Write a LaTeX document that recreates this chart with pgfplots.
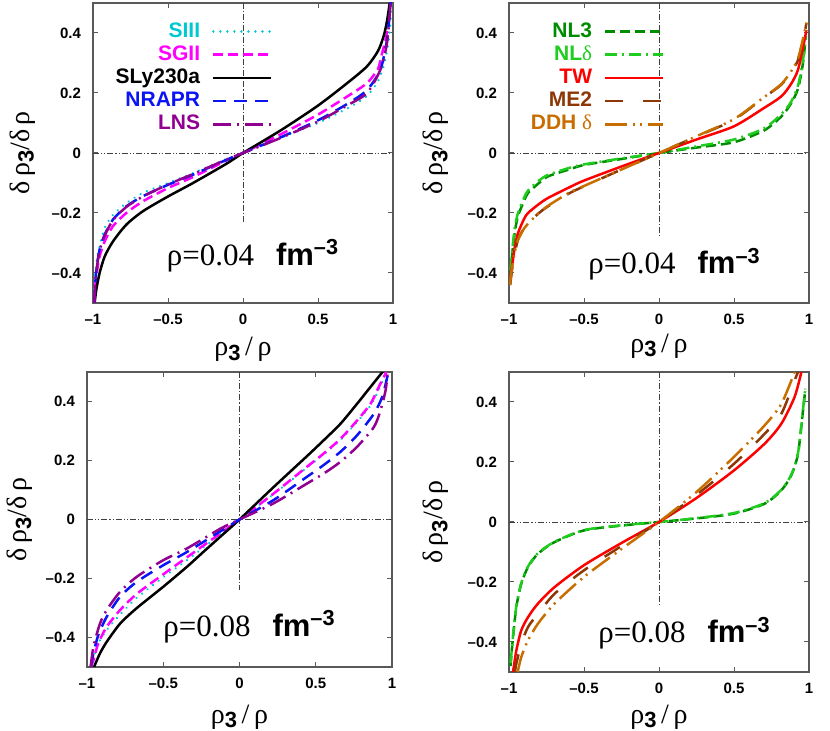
\documentclass[border=0pt]{standalone}
\usepackage{pgfplots}
\pgfplotsset{compat=1.18}
\usepackage{fontspec}
\setmainfont{Liberation Sans}
\newfontfamily\grk{Liberation Serif}

\definecolor{cSIII}{RGB}{0,200,210}
\definecolor{cSGII}{RGB}{255,0,255}
\definecolor{cNRAPR}{RGB}{10,20,245}
\definecolor{cLNS}{RGB}{145,0,145}
\definecolor{cNLiii}{RGB}{0,140,0}
\definecolor{cNLd}{RGB}{30,205,30}
\definecolor{cTW}{RGB}{255,0,0}
\definecolor{cMEii}{RGB}{140,55,5}
\definecolor{cDDH}{RGB}{200,110,0}

\newcommand{\sub}{\raisebox{-0.3ex}{\fontsize{11}{11}\selectfont\bfseries 3}}

\pgfplotsset{
  panel/.style={
    scale only axis, width=150pt, height=150pt,
    xmin=-1, xmax=1, ymin=-0.5, ymax=0.5,
    xtick={-1,-0.5,0,0.5,1}, xticklabels={–1,–0.5,0,0.5,1},
    ytick={-0.4,-0.2,0,0.2,0.4}, yticklabels={–0.4,–0.2,0,0.2,0.4},
    tick align=inside, major tick length=2.5pt,
    axis line style={black!65, line width=0.6pt},
    tick style={black!65, line width=0.5pt},
    ticklabel style={font=\bfseries\fontsize{7.5}{9}\selectfont},
    xticklabel style={yshift=-2pt},
    yticklabel style={xshift=-2.5pt},
    xlabel={{\grk ρ}\sub{\grk\,/\,ρ}},
    ylabel={{\grk δ\,ρ}\sub{\grk /δ\,ρ}},
    xlabel style={font=\fontsize{14}{14}\selectfont, anchor=center},
    ylabel style={font=\fontsize{14}{14}\selectfont, anchor=center},
    legend cell align=right, legend plot pos=right,
    legend image code/.code={\draw[##1] (0pt,0pt) -- (29pt,0pt);},
  },
  zh/.style={black!75, line width=0.4pt, dash pattern=on 3pt off 1pt on 0.6pt off 1pt on 0.6pt off 1pt, forget plot},
  zv/.style={black!75, line width=0.4pt, dash pattern=on 3pt off 1pt on 0.6pt off 1pt, forget plot},
  lw/.style={line width=1.25pt, smooth, tension=0.45},
  sIII/.style={lw, cSIII, line cap=round, dash pattern=on 0.01pt off 3.5pt},
  sSGII/.style={lw, cSGII, dash pattern=on 5pt off 2.5pt},
  sSLy/.style={lw, black},
  sNRAPR/.style={lw, cNRAPR, dash pattern=on 6.5pt off 4pt},
  sLNS/.style={lw, cLNS, dash pattern=on 9pt off 3pt on 1pt off 3pt},
  sNLiii/.style={lw, cNLiii, dash pattern=on 5pt off 2.5pt},
  sNLd/.style={lw, cNLd, dash pattern=on 6pt off 2.5pt on 1pt off 2.5pt},
  sTW/.style={lw, cTW},
  sMEii/.style={lw, cMEii, dash pattern=on 9pt off 10pt},
  sDDH/.style={lw, cDDH, dash pattern=on 11pt off 3pt on 1pt off 2.5pt on 1pt off 3pt},
  lgd/.style={legend style={draw=none, fill=none, inner sep=0pt, anchor=north east,
    font=\bfseries\fontsize{10.5}{12}\selectfont,
    nodes={inner sep=1pt, text height=7.6pt, text depth=2pt},
    /tikz/every odd column/.append style={column sep=5pt}}},
}

\begin{document}
\begin{tikzpicture}
\useasboundingbox (0,0) rectangle (415pt,365.5pt);

% top left
\begin{axis}[panel, at={(46.5pt,214pt)}, anchor=south west,
  xlabel style={at={(rel axis cs:0.5,-0.155)}}, ylabel style={at={(rel axis cs:-0.235,0.5)}},
  lgd, legend style={at={(axis cs:0.2,0.445)}}]
\addplot[zh] coordinates {(-1,0) (1,0)};
\addplot[zv] coordinates {(0,0.5) (0,-0.23)};
\addplot[sIII] coordinates {(-0.993,-0.5) (-0.989,-0.433) (-0.978,-0.367) (-0.956,-0.311) (-0.922,-0.25) (-0.867,-0.206) (-0.778,-0.167) (-0.667,-0.133) (-0.5,-0.1) (-0.333,-0.067) (-0.111,-0.02) (0,0) (0.25,0.05) (0.5,0.1) (0.7,0.15) (0.827,0.19) (0.9,0.24) (0.938,0.29) (0.96,0.34) (0.978,0.4) (0.99,0.5)};
\addlegendentry{\textcolor{cSIII}{SIII}}
\addplot[sSGII] coordinates {(-0.992,-0.5) (-0.989,-0.467) (-0.978,-0.411) (-0.956,-0.345) (-0.922,-0.295) (-0.867,-0.244) (-0.778,-0.2) (-0.667,-0.161) (-0.5,-0.117) (-0.333,-0.08) (-0.111,-0.025) (0,0) (0.25,0.062) (0.5,0.128) (0.7,0.19) (0.827,0.233) (0.9,0.28) (0.916,0.31) (0.96,0.4) (0.982,0.49) (0.985,0.5)};
\addlegendentry{\textcolor{cSGII}{SGII}}
\addplot[sSLy] coordinates {(-0.989,-0.5) (-0.978,-0.456) (-0.956,-0.4) (-0.922,-0.345) (-0.867,-0.295) (-0.778,-0.239) (-0.667,-0.194) (-0.5,-0.145) (-0.333,-0.1) (-0.111,-0.036) (0,0) (0.25,0.075) (0.5,0.158) (0.7,0.235) (0.827,0.289) (0.9,0.34) (0.938,0.39) (0.96,0.44) (0.978,0.5)};
\addlegendentry{SLy230a}
\addplot[sNRAPR] coordinates {(-0.99,-0.5) (-0.985,-0.44) (-0.978,-0.389) (-0.956,-0.322) (-0.922,-0.272) (-0.867,-0.222) (-0.778,-0.178) (-0.667,-0.144) (-0.5,-0.106) (-0.333,-0.072) (-0.111,-0.023) (0,0) (0.25,0.052) (0.5,0.109) (0.7,0.165) (0.827,0.21) (0.916,0.278) (0.96,0.378) (0.982,0.49) (0.985,0.5)};
\addlegendentry{\textcolor{cNRAPR}{NRAPR}}
\addplot[sLNS] coordinates {(-0.991,-0.5) (-0.986,-0.45) (-0.978,-0.395) (-0.956,-0.326) (-0.922,-0.276) (-0.867,-0.224) (-0.778,-0.18) (-0.667,-0.145) (-0.5,-0.105) (-0.333,-0.07) (-0.111,-0.022) (0,0) (0.25,0.05) (0.5,0.105) (0.7,0.16) (0.827,0.2) (0.916,0.278) (0.96,0.367) (0.982,0.49) (0.985,0.5)};
\addlegendentry{\textcolor{cLNS}{LNS}}
\node[anchor=west, inner sep=0pt] at (axis cs:-0.51,-0.343) {\fontsize{15.5}{15.5}\selectfont{\grk ρ=0.04}\hspace{11pt}\textbf{fm}\textsuperscript{\textbf{–3}}};
\end{axis}

% top right
\begin{axis}[panel, at={(254.5pt,214pt)}, anchor=south west,
  xlabel style={at={(rel axis cs:0.5,-0.143)}}, ylabel style={at={(rel axis cs:-0.243,0.5)}},
  lgd, legend style={at={(axis cs:0.04,0.445)}}]
\addplot[zh] coordinates {(-1,0) (1,0)};
\addplot[zv] coordinates {(0,0.5) (0,-0.28)};
\addplot[sNLiii] coordinates {(-0.988,-0.4) (-0.978,-0.333) (-0.96,-0.26) (-0.94,-0.21) (-0.9,-0.16) (-0.873,-0.133) (-0.8,-0.1) (-0.74,-0.078) (-0.6,-0.055) (-0.5,-0.04) (-0.25,-0.02) (0,0) (0.25,0.018) (0.5,0.036) (0.7,0.075) (0.816,0.122) (0.88,0.165) (0.927,0.215) (0.96,0.3) (0.976,0.38)};
\addlegendentry{\textcolor{cNLiii}{NL3}}
\addplot[sNLd] coordinates {(-0.99,-0.39) (-0.98,-0.333) (-0.962,-0.25) (-0.94,-0.2) (-0.9,-0.15) (-0.873,-0.125) (-0.8,-0.092) (-0.74,-0.073) (-0.6,-0.05) (-0.5,-0.038) (-0.25,-0.018) (0,0) (0.25,0.022) (0.5,0.045) (0.7,0.082) (0.816,0.13) (0.88,0.17) (0.927,0.225) (0.96,0.31) (0.98,0.39)};
\addlegendentry{\textcolor{cNLd}{NL{\grk\mdseries δ}}}
\addplot[sTW] coordinates {(-0.99,-0.42) (-0.98,-0.378) (-0.96,-0.31) (-0.94,-0.267) (-0.9,-0.22) (-0.873,-0.2) (-0.8,-0.17) (-0.74,-0.15) (-0.6,-0.115) (-0.5,-0.092) (-0.25,-0.045) (0,0) (0.25,0.045) (0.5,0.089) (0.7,0.15) (0.816,0.189) (0.88,0.23) (0.927,0.278) (0.971,0.378) (0.982,0.41)};
\addlegendentry{\textcolor{cTW}{TW}}
\addplot[sMEii] coordinates {(-0.992,-0.44) (-0.98,-0.39) (-0.96,-0.333) (-0.94,-0.289) (-0.9,-0.25) (-0.873,-0.233) (-0.8,-0.2) (-0.74,-0.178) (-0.6,-0.135) (-0.5,-0.111) (-0.25,-0.055) (0,0) (0.25,0.055) (0.5,0.111) (0.7,0.185) (0.816,0.228) (0.88,0.27) (0.927,0.31) (0.971,0.4) (0.982,0.433)};
\addlegendentry{\textcolor{cMEii}{ME2}}
\addplot[sDDH] coordinates {(-0.994,-0.44) (-0.982,-0.39) (-0.962,-0.333) (-0.942,-0.292) (-0.9,-0.252) (-0.873,-0.235) (-0.8,-0.2) (-0.74,-0.176) (-0.6,-0.133) (-0.5,-0.11) (-0.25,-0.055) (0,0) (0.25,0.056) (0.5,0.113) (0.7,0.186) (0.816,0.23) (0.88,0.272) (0.927,0.315) (0.971,0.405) (0.984,0.435)};
\addlegendentry{\textcolor{cDDH}{DDH {\grk\mdseries δ}}}
\node[anchor=west, inner sep=0pt] at (axis cs:-0.473,-0.37) {\fontsize{15.5}{15.5}\selectfont{\grk ρ=0.04}\hspace{11pt}\textbf{fm}\textsuperscript{\textbf{–3}}};
\end{axis}

% bottom left
\begin{axis}[panel, width=152.5pt, height=147.5pt, at={(43.5pt,32pt)}, anchor=south west,
  xlabel style={at={(rel axis cs:0.5,-0.17)}}, ylabel style={at={(rel axis cs:-0.22,0.5)}}]
\addplot[zh] coordinates {(-1,0) (1,0)};
\addplot[zv] coordinates {(0,0.5) (0,-0.24)};
\addplot[sIII] coordinates {(-0.972,-0.5) (-0.958,-0.47) (-0.926,-0.42) (-0.871,-0.375) (-0.783,-0.322) (-0.673,-0.265) (-0.5,-0.196) (-0.344,-0.138) (-0.125,-0.05) (0,0) (0.224,0.086) (0.443,0.176) (0.553,0.221) (0.663,0.27) (0.772,0.331) (0.86,0.387) (0.914,0.44) (0.955,0.49) (0.962,0.5)};
\addplot[sSGII] coordinates {(-0.975,-0.5) (-0.958,-0.477) (-0.926,-0.42) (-0.871,-0.364) (-0.783,-0.307) (-0.673,-0.252) (-0.5,-0.186) (-0.344,-0.128) (-0.125,-0.047) (0,0) (0.224,0.088) (0.443,0.179) (0.553,0.224) (0.663,0.274) (0.772,0.336) (0.86,0.393) (0.914,0.45) (0.958,0.495) (0.965,0.5)};
\addplot[sSLy] coordinates {(-0.954,-0.5) (-0.915,-0.454) (-0.871,-0.415) (-0.783,-0.353) (-0.673,-0.3) (-0.5,-0.228) (-0.344,-0.16) (-0.25,-0.116) (-0.125,-0.058) (0,0) (0.224,0.11) (0.443,0.215) (0.553,0.269) (0.663,0.325) (0.772,0.393) (0.86,0.45) (0.947,0.506)};
\addplot[sNRAPR] coordinates {(-0.975,-0.5) (-0.958,-0.454) (-0.926,-0.392) (-0.871,-0.33) (-0.783,-0.262) (-0.673,-0.211) (-0.5,-0.155) (-0.344,-0.11) (-0.125,-0.04) (0,0) (0.224,0.066) (0.443,0.145) (0.553,0.185) (0.663,0.23) (0.772,0.286) (0.882,0.359) (0.936,0.416) (0.969,0.483) (0.975,0.5)};
\addplot[sLNS] coordinates {(-0.976,-0.5) (-0.958,-0.432) (-0.915,-0.353) (-0.871,-0.307) (-0.783,-0.245) (-0.673,-0.194) (-0.5,-0.138) (-0.344,-0.098) (-0.125,-0.031) (0,0) (0.224,0.055) (0.443,0.122) (0.553,0.156) (0.663,0.196) (0.772,0.247) (0.882,0.314) (0.925,0.371) (0.958,0.438) (0.972,0.5)};
\node[anchor=west, inner sep=0pt] at (axis cs:-0.502,-0.364) {\fontsize{15.5}{15.5}\selectfont{\grk ρ=0.08}\hspace{11pt}\textbf{fm}\textsuperscript{\textbf{–3}}};
\end{axis}

% bottom right
\begin{axis}[panel, at={(254.5pt,29.5pt)}, anchor=south west,
  xlabel style={at={(rel axis cs:0.5,-0.15)}}, ylabel style={at={(rel axis cs:-0.243,0.5)}}]
\addplot[zh] coordinates {(-1,0) (1,0)};
\addplot[zv] coordinates {(0,0.5) (0,-0.283)};
\addplot[sNLiii] coordinates {(-0.99,-0.48) (-0.984,-0.444) (-0.973,-0.383) (-0.951,-0.283) (-0.918,-0.206) (-0.873,-0.15) (-0.807,-0.106) (-0.696,-0.067) (-0.5,-0.028) (-0.25,-0.012) (0,0) (0.25,0.012) (0.5,0.028) (0.704,0.061) (0.816,0.106) (0.882,0.156) (0.927,0.228) (0.96,0.372) (0.976,0.444)};
\addplot[sNLd] coordinates {(-0.99,-0.47) (-0.984,-0.44) (-0.973,-0.38) (-0.951,-0.28) (-0.918,-0.203) (-0.873,-0.148) (-0.807,-0.104) (-0.696,-0.066) (-0.5,-0.027) (-0.25,-0.011) (0,0) (0.25,0.013) (0.5,0.03) (0.704,0.063) (0.816,0.108) (0.882,0.158) (0.927,0.23) (0.96,0.375) (0.976,0.444)};
\addplot[sTW] coordinates {(-0.973,-0.5) (-0.951,-0.428) (-0.918,-0.361) (-0.873,-0.317) (-0.807,-0.272) (-0.696,-0.217) (-0.5,-0.144) (-0.25,-0.07) (0,0) (0.25,0.08) (0.5,0.172) (0.704,0.261) (0.816,0.328) (0.904,0.417) (0.949,0.5)};
\addplot[sMEii] coordinates {(-0.96,-0.5) (-0.951,-0.472) (-0.918,-0.406) (-0.873,-0.35) (-0.807,-0.306) (-0.696,-0.239) (-0.5,-0.161) (-0.25,-0.08) (0,0) (0.25,0.09) (0.5,0.194) (0.704,0.294) (0.816,0.361) (0.904,0.472) (0.927,0.5)};
\addplot[sDDH] coordinates {(-0.942,-0.5) (-0.918,-0.45) (-0.873,-0.394) (-0.807,-0.339) (-0.696,-0.272) (-0.5,-0.183) (-0.25,-0.09) (0,0) (0.25,0.1) (0.5,0.217) (0.704,0.322) (0.816,0.394) (0.904,0.5)};
\node[anchor=west, inner sep=0pt] at (axis cs:-0.407,-0.37) {\fontsize{15.5}{15.5}\selectfont{\grk ρ=0.08}\hspace{11pt}\textbf{fm}\textsuperscript{\textbf{–3}}};
\end{axis}
\end{tikzpicture}
\end{document}
